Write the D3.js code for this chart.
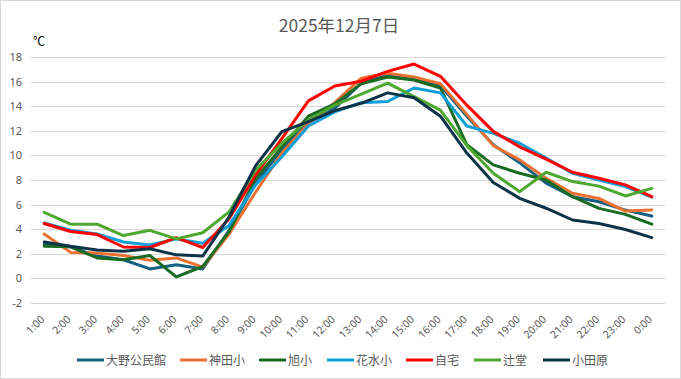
<!DOCTYPE html>
<html><head><meta charset="utf-8">
<script src="https://cdn.jsdelivr.net/npm/d3@7"></script>
<style>
html,body{margin:0;padding:0;background:#fff;}
svg{display:block;}
text{font-family:"Noto Sans CJK JP","Noto Sans",sans-serif;}
</style></head>
<body>
<svg id="c" width="681" height="379"></svg>
<script>
const hours = ["1:00","2:00","3:00","4:00","5:00","6:00","7:00","8:00","9:00","10:00","11:00","12:00","13:00","14:00","15:00","16:00","17:00","18:00","19:00","20:00","21:00","22:00","23:00","0:00"];
const yTicks = [-2,0,2,4,6,8,10,12,14,16,18];
const seriesNames = ["大野公民館","神田小","旭小","花水小","自宅","辻堂","小田原"];
const seriesColors = ["#156082","#E97132","#196B24","#0F9ED5","#FF0000","#4EA72E","#0C3449"];
const oono   = [2.75,2.55,1.8,1.5,0.75,1.1,0.75,3.9,7.7,10.5,12.8,13.85,15.9,16.55,16.3,15.7,13.2,10.87,9.4,7.75,6.64,6.23,5.55,5.06];
const kanda  = [3.6,2.1,2.05,1.85,1.45,1.65,0.9,3.6,7.0,10.2,12.6,14.3,16.3,16.7,16.4,15.85,13.35,10.8,9.64,8.14,6.92,6.5,5.47,5.55];
const asahi  = [2.6,2.55,1.65,1.5,1.85,0.1,0.95,3.8,8.1,10.7,13.2,14.2,15.85,16.4,16.15,15.5,10.87,9.23,8.55,8.0,6.64,5.69,5.2,4.4];
const hanami = [4.5,3.9,3.6,2.95,2.7,3.2,2.85,4.3,7.6,9.9,12.4,13.55,14.3,14.4,15.5,15.1,12.4,11.8,11.0,9.78,8.55,8.0,7.46,6.6];
const jitaku = [4.45,3.8,3.55,2.54,2.5,3.3,2.5,4.85,8.4,11.4,14.45,15.66,16.05,16.85,17.45,16.45,14.1,11.96,10.7,9.7,8.63,8.14,7.6,6.64];
const tsujido= [5.36,4.4,4.4,3.47,3.9,3.2,3.7,5.4,8.8,11.0,12.9,14.1,15.0,15.9,14.8,13.7,10.8,8.55,7.05,8.63,7.87,7.5,6.7,7.32];
const odawara= [2.95,2.6,2.3,2.2,2.4,1.9,1.8,5.0,9.15,11.95,12.75,13.65,14.25,15.1,14.7,13.2,10.2,7.8,6.5,5.7,4.74,4.46,3.97,3.3];
const allSeries = [oono,kanda,asahi,hanami,jitaku,tsujido,odawara];

const svg = d3.select("#c");
svg.append("rect").attr("x",0.5).attr("y",0.5).attr("width",680).attr("height",378)
  .attr("fill","#fff").attr("stroke","#d9d9d9");

const x = d3.scaleBand().domain(hours).range([31,665]);
const y = d3.scaleLinear().domain([-2,18]).range([302.7,57.3]);

// gridlines
svg.append("g").selectAll("line").data(yTicks).join("line")
  .attr("x1",31).attr("x2",665)
  .attr("y1",d=>Math.round(y(d))+0.5).attr("y2",d=>Math.round(y(d))+0.5)
  .attr("stroke","#d9d9d9").attr("stroke-width",1);

// y axis labels
const yAxis = d3.axisLeft(y).tickValues(yTicks).tickSize(0).tickPadding(0).tickFormat(d=>d);
const gy = svg.append("g").attr("transform","translate(22,0)").call(yAxis);
gy.select(".domain").remove();
gy.selectAll("text").attr("fill","#595959").style("font-size","11px").style("font-family","'Noto Sans','DejaVu Sans',sans-serif");

// x axis labels
const xAxis = d3.axisBottom(x).tickSize(0).tickPadding(0);
const gx = svg.append("g").attr("transform","translate(-5,317)").call(xAxis);
gx.select(".domain").remove();
gx.selectAll(".tick text").attr("fill","#595959").style("font-size","10.5px")
  .style("font-family","'Noto Sans','DejaVu Sans',sans-serif")
  .attr("text-anchor","end").attr("dy","0.6em").attr("dx","0.2em")
  .attr("y",0).attr("x",0)
  .attr("transform","rotate(-45)");

// lines
const line = d3.line().x((d,i)=>x(hours[i])+x.bandwidth()/2).y(d=>y(d));
svg.append("g").selectAll("path").data(allSeries).join("path")
  .attr("d",d=>line(d)).attr("fill","none")
  .attr("stroke",(d,i)=>seriesColors[i]).attr("stroke-width",3)
  .attr("stroke-linejoin","round").attr("stroke-linecap","round");

// title
svg.append("text").attr("x",339).attr("y",32).attr("text-anchor","middle")
  .attr("fill","#595959").style("font-size","17.5px").text("2025年12月7日");
svg.append("text").attr("x",33).attr("y",46).attr("fill","#000").style("font-size","12px").text("℃");

// legend
const legX = [77,180,259,327,406,474,543];
const lg = svg.append("g");
seriesNames.forEach((n,i)=>{
  lg.append("line").attr("x1",legX[i]).attr("x2",legX[i]+27).attr("y1",360).attr("y2",360)
    .attr("stroke",seriesColors[i]).attr("stroke-width",3);
  lg.append("text").attr("x",legX[i]+29).attr("y",364.5).attr("fill","#595959")
    .style("font-size","12px").text(n);
});
</script>
</body></html>
